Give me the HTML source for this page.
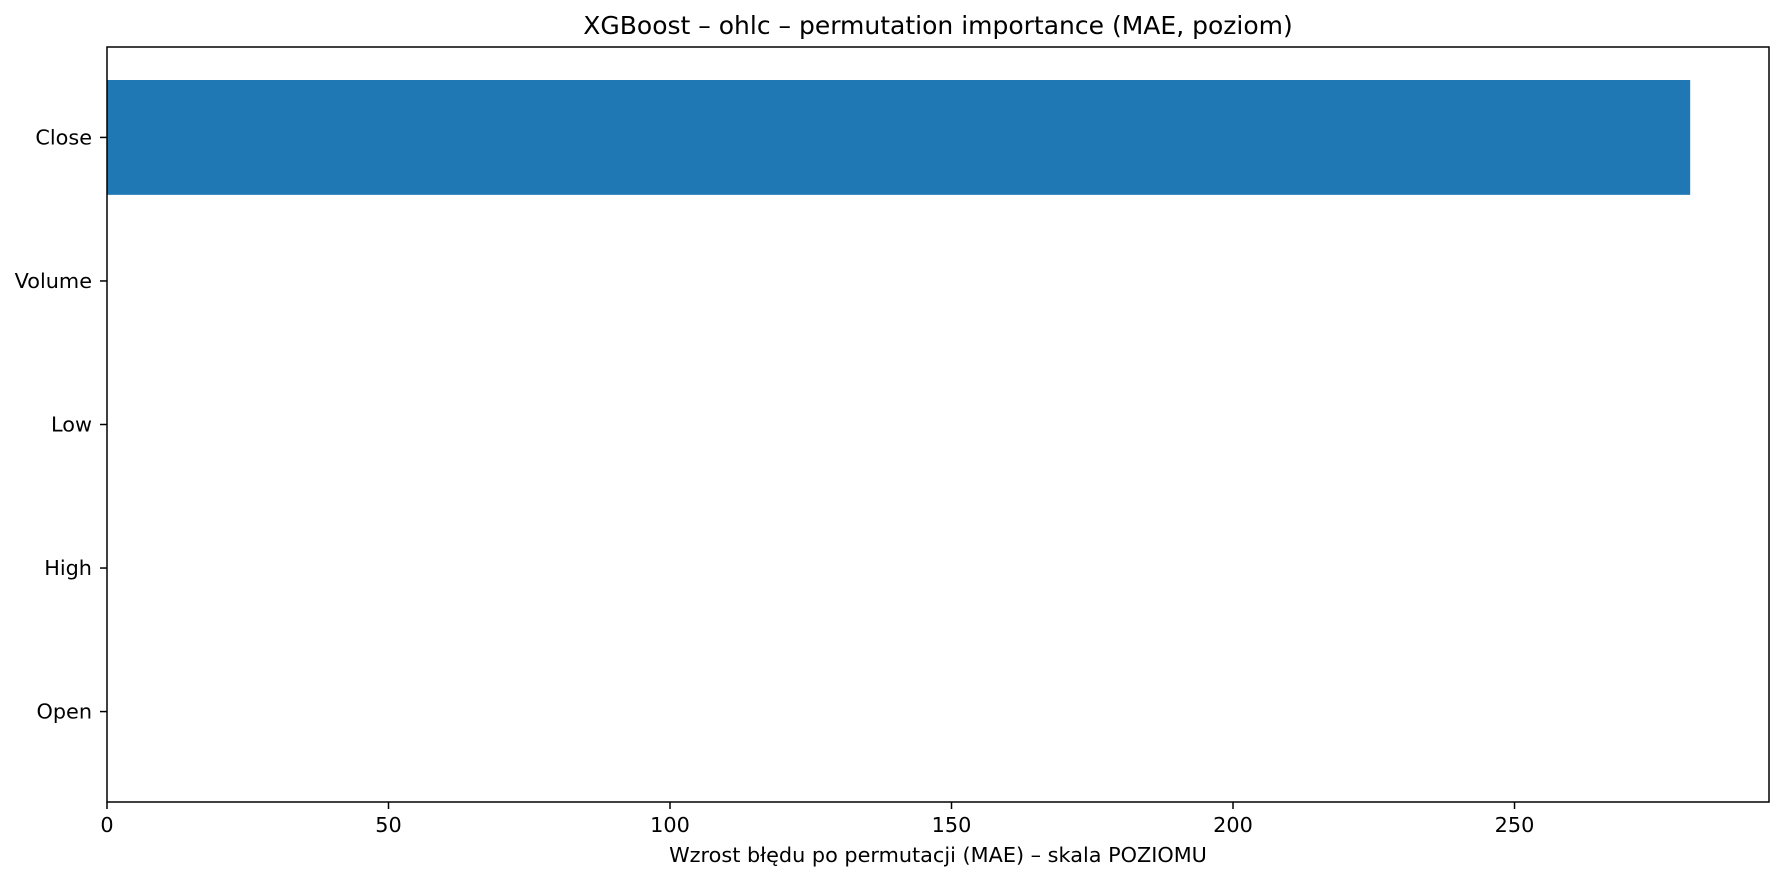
<!DOCTYPE html>
<html><head><meta charset="utf-8"><style>
body{margin:0;background:#fff;}
svg{display:block;font-family:"DejaVu Sans","Liberation Sans",sans-serif;}
</style></head><body>
<svg id="chart" width="1785" height="881"></svg>
<script>
const categories = ["Open","High","Low","Volume","Close"];
const values = [0, 0, 0, 0, 281.2];
const xTicks = [0, 50, 100, 150, 200, 250];

const NS = "http://www.w3.org/2000/svg";
const svg = document.getElementById("chart");
const L = 107, R = 1769, T = 47, B = 802;
const xMin = 0, xMax = 295.2, yMin = -0.63, yMax = 4.63;
const x = v => L + (v - xMin) / (xMax - xMin) * (R - L);
const y = i => B - (i - yMin) / (yMax - yMin) * (B - T);
function mk(tag, attrs, text) {
  const e = document.createElementNS(NS, tag);
  for (const k in attrs) e.setAttribute(k, attrs[k]);
  if (text !== undefined) e.textContent = text;
  svg.appendChild(e);
  return e;
}

const title = mk("text", {x: (L + R) / 2, y: 34, "text-anchor": "middle", "font-size": "25"}, "XGBoost – ohlc – permutation importance (MAE, poziom)");



categories.forEach((c, i) => {
  const h = (0.8) / (yMax - yMin) * (B - T);
  const bar = mk("rect", {x: x(0), y: y(i) - h / 2, width: Math.max(0, x(values[i]) - x(0)), height: h, fill: "#1f77b4"});
  
  
  const tk = mk("line", {x1: L - 7, x2: L, y1: y(i), y2: y(i), stroke: "#000", "stroke-width": 1.5});
  
  
  const lb = mk("text", {x: L - 15, y: y(i) + 7, "text-anchor": "end", "font-size": "20.8"}, c);
  
  
});

xTicks.forEach(v => {
  const tk = mk("line", {x1: x(v), x2: x(v), y1: B, y2: B + 7, stroke: "#000", "stroke-width": 1.5});
  
  
  const lb = mk("text", {x: x(v), y: B + 30, "text-anchor": "middle", "font-size": "20.8"}, String(v));
  
  
});

const frame = mk("rect", {x: L, y: T, width: R - L, height: B - T, fill: "none", stroke: "#000", "stroke-width": 1.5});



const xl = mk("text", {x: (L + R) / 2, y: 862, "text-anchor": "middle", "font-size": "20.8"}, "Wzrost błędu po permutacji (MAE) – skala POZIOMU");


</script>
</body></html>
